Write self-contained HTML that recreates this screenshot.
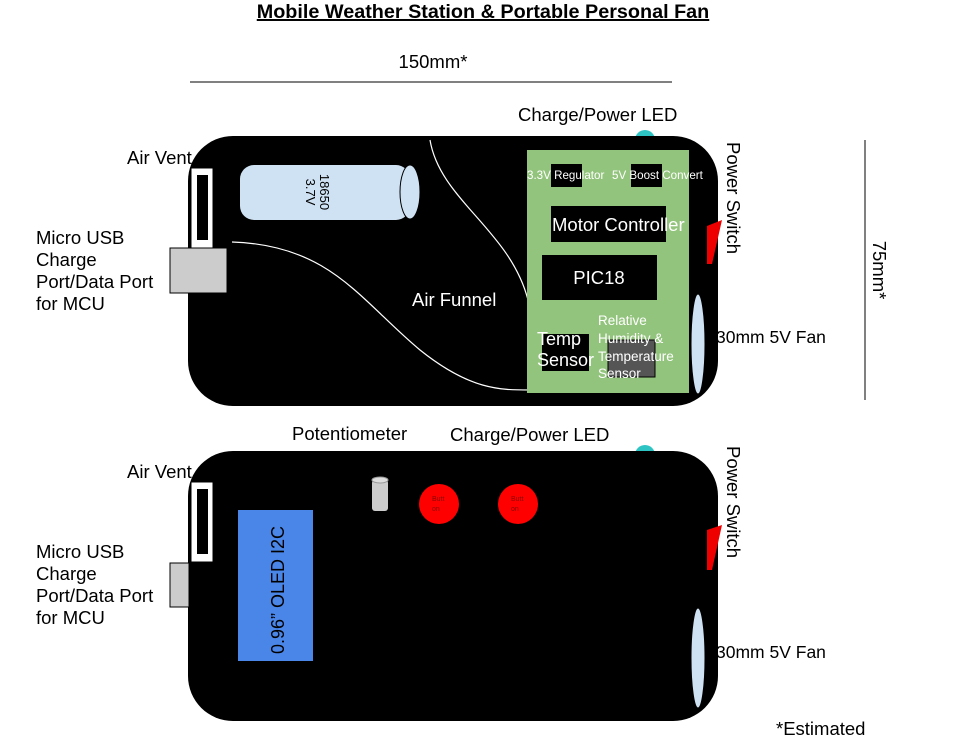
<!DOCTYPE html>
<html><head><meta charset="utf-8"><style>
body{margin:0;background:#fff;}
svg{display:block;font-family:"Liberation Sans",Arial,sans-serif;}
</style></head><body>
<svg width="959" height="750" viewBox="0 0 959 750">
<text x="483" y="18" text-anchor="middle" font-size="19.8" font-weight="bold" text-decoration="underline">Mobile Weather Station &amp; Portable Personal Fan</text>
<line x1="190" y1="82" x2="672" y2="82" stroke="#000"/>
<text x="433" y="68" text-anchor="middle" font-size="18.5">150mm*</text>
<line x1="865" y1="140" x2="865" y2="400" stroke="#000"/>
<text transform="translate(873,270) rotate(90)" text-anchor="middle" font-size="18.5">75mm*</text>

<g>
<circle cx="645" cy="140" r="10" fill="#2ec4c4"/>
<rect x="188" y="136" width="530" height="270" rx="45" fill="#000"/>
<rect x="191" y="168" width="22" height="80" fill="#fff" stroke="#000"/>
<rect x="197" y="175" width="11" height="65" fill="#000"/>
<rect x="170" y="248" width="57" height="45" fill="#ccc" stroke="#000"/>
<rect x="240" y="165" width="170" height="55" rx="14" fill="#cfe2f3"/>
<ellipse cx="410" cy="192" rx="10" ry="27" fill="#cfe2f3" stroke="#000"/>
<text transform="translate(318,192) rotate(90)" text-anchor="middle" font-size="13"><tspan x="0" dy="-2">18650</tspan><tspan x="0" dy="14">3.7V</tspan></text>
<path d="M232,242 C330,245 360,300 420,350 C470,390 500,390 530,390" fill="none" stroke="#fff" stroke-width="1.2"/>
<path d="M430,140 C440,200 510,230 528,300" fill="none" stroke="#fff" stroke-width="1.2"/>
<text x="412" y="306" fill="#fff" font-size="18.5">Air Funnel</text>
<rect x="527" y="150" width="162" height="243" fill="#93c47d"/>
<rect x="551" y="164" width="31" height="23" fill="#000"/>
<rect x="631" y="164" width="31" height="23" fill="#000"/>
<text x="527" y="179" fill="#fff" font-size="11.6">3.3V Regulator</text>
<text x="612" y="179" fill="#fff" font-size="11.6">5V Boost Convert</text>
<rect x="551" y="206" width="115" height="36" fill="#000"/>
<text x="552" y="231" fill="#fff" font-size="18.5">Motor Controller</text>
<rect x="542" y="255" width="115" height="45" fill="#000"/>
<text x="599" y="284" text-anchor="middle" fill="#fff" font-size="18.5">PIC18</text>
<rect x="542" y="334" width="47" height="37" fill="#000"/>
<text x="537" y="345" fill="#fff" font-size="18"><tspan x="537">Temp</tspan><tspan x="537" dy="21">Sensor</tspan></text>
<rect x="608" y="340" width="47" height="37" fill="#555" stroke="#000"/>
<text font-size="13.5" fill="#fff"><tspan x="598" y="325">Relative</tspan><tspan x="598" y="343">Humidity &amp;</tspan><tspan x="598" y="361">Temperature</tspan><tspan x="598" y="378">Sensor</tspan></text>
<polygon points="707,226 722,220 712,264 707,264" fill="#e00"/>
<ellipse cx="698" cy="344" rx="7" ry="50" fill="#cfe2f3" stroke="#000"/>
</g>
<text x="518" y="121" font-size="18.5">Charge/Power LED</text>
<text x="127" y="164" font-size="18.5">Air Vent</text>
<text font-size="18.5"><tspan x="36" y="244">Micro USB</tspan><tspan x="36" y="266">Charge</tspan><tspan x="36" y="288">Port/Data Port</tspan><tspan x="36" y="310">for MCU</tspan></text>
<text transform="translate(727,142) rotate(90)" font-size="18.5">Power Switch</text>
<text x="716" y="343" font-size="17.5">30mm 5V Fan</text>

<g>
<circle cx="645" cy="455" r="10" fill="#2ec4c4"/>
<rect x="188" y="451" width="530" height="270" rx="45" fill="#000"/>
<rect x="191" y="482" width="22" height="80" fill="#fff" stroke="#000"/>
<rect x="197" y="489" width="11" height="65" fill="#000"/>
<rect x="170" y="563" width="19" height="44" fill="#ccc" stroke="#000"/>
<rect x="238" y="510" width="75" height="151" fill="#4a86e8"/>
<text transform="translate(284,590) rotate(-90)" text-anchor="middle" font-size="18">0.96” OLED I2C</text>
<rect x="372" y="480" width="16" height="31" rx="3" fill="#ccc"/>
<ellipse cx="380" cy="480" rx="8" ry="3" fill="#ddd" stroke="#999"/>
<circle cx="439" cy="504" r="20" fill="#f00"/>
<text x="432" y="501" font-size="7" fill="#800"><tspan x="432">Butt</tspan><tspan x="432" dy="10">on</tspan></text>
<circle cx="518" cy="504" r="20" fill="#f00"/>
<text x="511" y="501" font-size="7" fill="#800"><tspan x="511">Butt</tspan><tspan x="511" dy="10">on</tspan></text>
<polygon points="707,530 722,525 712,570 707,570" fill="#e00"/>
<ellipse cx="698" cy="658" rx="7" ry="50" fill="#cfe2f3" stroke="#000"/>
</g>
<text x="292" y="440" font-size="18.5">Potentiometer</text>
<text x="450" y="441" font-size="18.5">Charge/Power LED</text>
<text x="127" y="478" font-size="18.5">Air Vent</text>
<text font-size="18.5"><tspan x="36" y="558">Micro USB</tspan><tspan x="36" y="580">Charge</tspan><tspan x="36" y="602">Port/Data Port</tspan><tspan x="36" y="624">for MCU</tspan></text>
<text transform="translate(727,446) rotate(90)" font-size="18.5">Power Switch</text>
<text x="716" y="658" font-size="17.5">30mm 5V Fan</text>
<text x="776" y="735" font-size="18.5">*Estimated</text>
</svg>
</body></html>
